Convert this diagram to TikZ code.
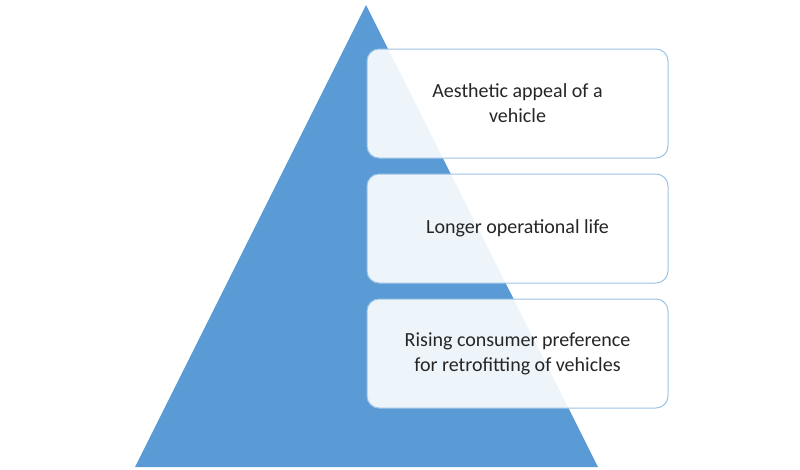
\documentclass[tikz,border=0pt]{standalone}
\usepackage{fontspec}
\setmainfont{Carlito}
\usetikzlibrary{positioning}
\definecolor{pyrblue}{HTML}{5B9BD5}
\definecolor{boxline}{HTML}{9DC3E6}
\tikzset{
  levelbox/.style={rectangle, rounded corners=12pt, draw=boxline, line width=1pt, fill=white, fill opacity=0.9, text opacity=1, text=black!85, minimum width=301pt, minimum height=109pt, align=center, font=\fontsize{20}{25}\selectfont}
}
\begin{document}
\begin{tikzpicture}[x=1pt,y=-1pt]
    \useasboundingbox (0,0) rectangle (800,469);
    \fill[pyrblue] (366,5) -- (598,467) -- (135,467) -- cycle;%draws the pyramid
    \node (top) [levelbox] at (517.5,103.5){Aesthetic appeal of a\\vehicle};%top level
    \node (mid) [levelbox, below=15pt of top]{Longer operational life};%middle level
    \node (low) [levelbox, below=15pt of mid]{Rising consumer preference\\for retrofitting of vehicles};%bottom level
\end{tikzpicture}
\end{document}
